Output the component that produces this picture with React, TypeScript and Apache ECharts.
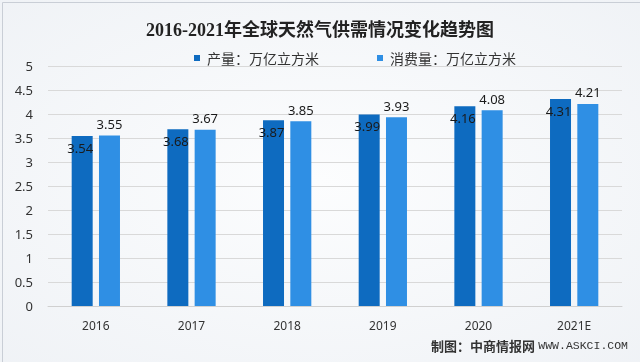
import React, { useEffect, useRef } from "react";
import * as echarts from "echarts";

const categories = ["2016", "2017", "2018", "2019", "2020", "2021E"];
const production = [3.54, 3.68, 3.87, 3.99, 4.16, 4.31];
const consumption = [3.55, 3.67, 3.85, 3.93, 4.08, 4.21];
const seriesNames = ["产量：万亿立方米", "消费量：万亿立方米"];
const titleText = "2016-2021年全球天然气供需情况变化趋势图";
const footerLabel = "制图：中商情报网";
const footerUrl = "WWW.ASKCI.COM";

export default function App() {
  const ref = useRef<HTMLDivElement>(null);
  useEffect(() => {
    if (!ref.current) return;
    const chart = echarts.init(ref.current, null, { renderer: "svg" });
    const font = "'Noto Sans', 'Noto Sans CJK SC', sans-serif";
    chart.setOption({
      animation: false,
      backgroundColor: {
        type: "radial",
        x: 0.5,
        y: 0.5,
        r: 0.8,
        colorStops: [
          { offset: 0, color: "#fcfdfe" },
          { offset: 1, color: "#eef1f5" },
        ],
      },
      title: {
        text: titleText,
        left: "center",
        top: 16,
        textStyle: {
          fontFamily: "'Liberation Serif', 'Noto Sans CJK SC', serif",
          fontWeight: "bold",
          fontSize: 18,
          color: "#222",
        },
      },
      legend: {
        top: 46,
        left: 189,
        itemWidth: 6,
        itemHeight: 6,
        itemGap: 58,
        icon: "rect",
        textStyle: {
          fontFamily: "'Noto Sans CJK SC', sans-serif",
          fontSize: 14,
          color: "#333",
          padding: [0, 0, 0, 2],
        },
        data: seriesNames,
      },
      graphic: [
        {
          type: "text",
          right: 12,
          top: 339,
          style: {
            text: "{a|" + footerLabel + "} {b|" + footerUrl + "}",
            rich: {
              a: {
                fontFamily: "'Noto Sans CJK SC', sans-serif",
                fontSize: 13,
                fontWeight: "bold",
                fill: "#333",
              },
              b: {
                fontFamily: "'Liberation Mono', monospace",
                fontSize: 11.5,
                fill: "#333",
              },
            },
          },
        },
        {
          type: "rect",
          left: 0,
          top: 0,
          shape: { width: 639, height: 361 },
          style: { fill: "none", stroke: "#c9ced6", lineWidth: 1 },
        },
      ],
      grid: { left: 48, right: 18, top: 66, bottom: 56 },
      xAxis: {
        type: "category",
        data: categories,
        axisTick: { show: false },
        axisLine: { lineStyle: { color: "#d0d0d0" } },
        axisLabel: { fontFamily: font, fontSize: 12, color: "#333", margin: 13 },
      },
      yAxis: {
        type: "value",
        min: 0,
        max: 5,
        interval: 0.5,
        axisLine: { show: false },
        axisTick: { show: false },
        splitLine: { lineStyle: { color: "#d9d9d9" } },
        axisLabel: { fontFamily: font, fontSize: 13, color: "#333", margin: 15 },
      },
      series: [
        {
          name: seriesNames[0],
          type: "bar",
          data: production,
          barWidth: 21,
          barGap: "30%",
          itemStyle: { color: "#0e6bc0" },
          label: {
            show: true,
            position: "insideTop",
            distance: 5,
            offset: [-2, 0],
            fontFamily: font,
            fontSize: 13,
            color: "#1a1a1a",
          },
        },
        {
          name: seriesNames[1],
          type: "bar",
          data: consumption,
          barWidth: 21,
          itemStyle: { color: "#2f8fe4" },
          label: {
            show: true,
            position: "top",
            distance: 5,
            fontFamily: font,
            fontSize: 13,
            color: "#1a1a1a",
          },
        },
      ],
    });
    return () => chart.dispose();
  }, []);
  return (
    <div
      ref={ref}
      style={{ position: "fixed", left: 0, top: 0, width: 640, height: 362 }}
    />
  );
}
